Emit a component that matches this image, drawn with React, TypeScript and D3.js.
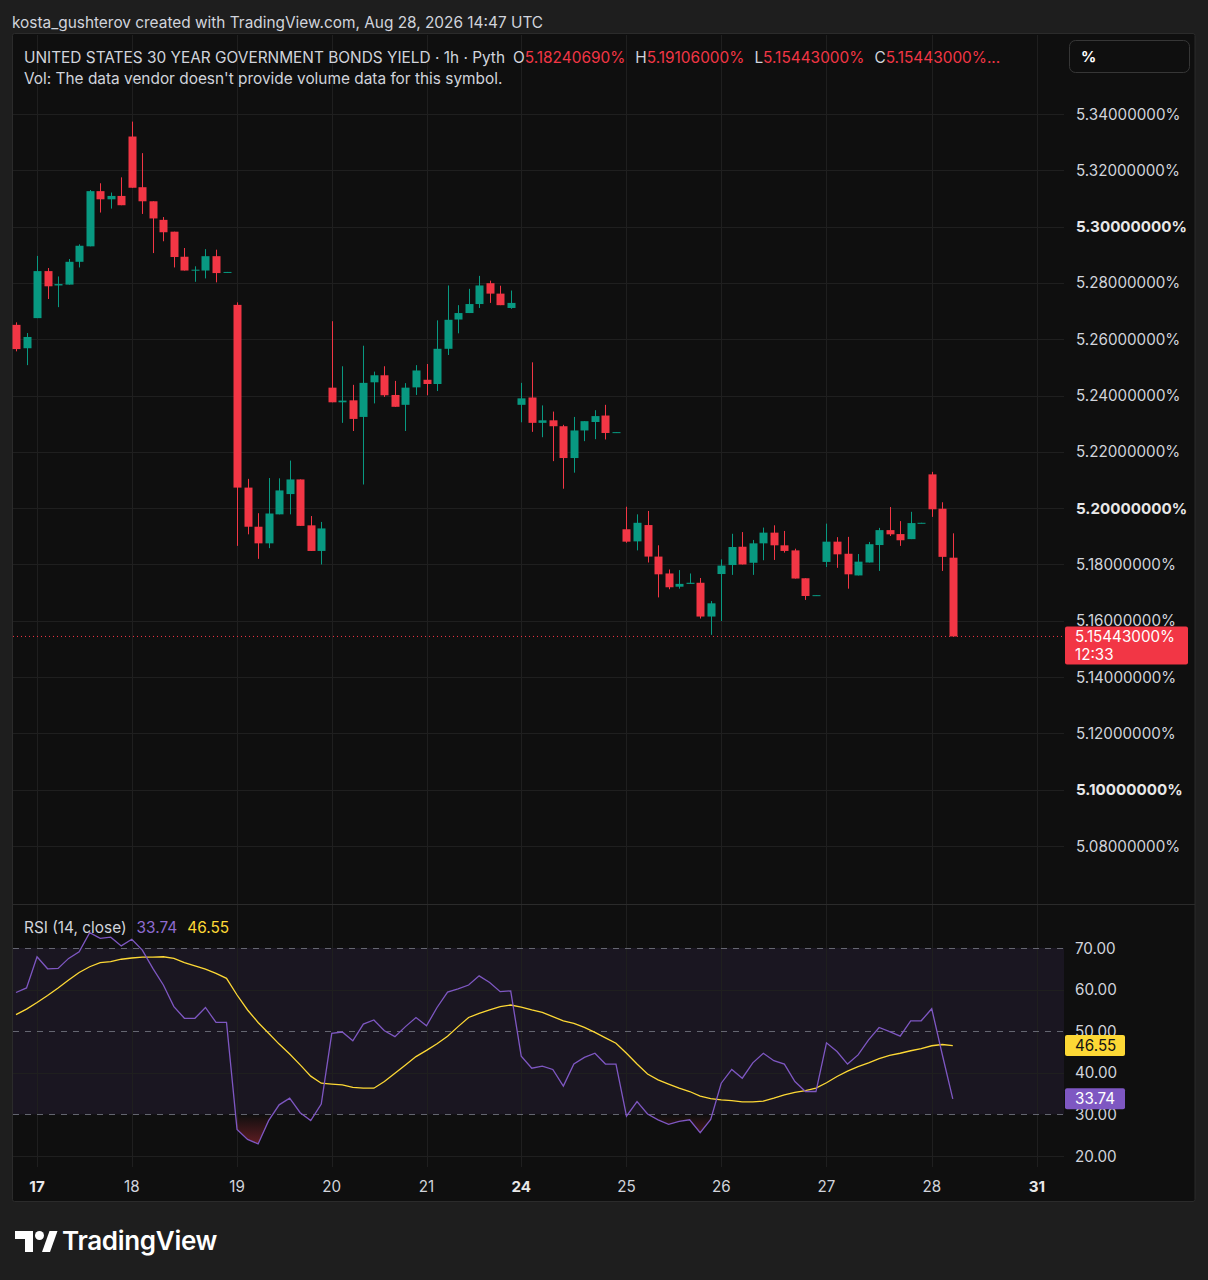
import React, { useEffect } from 'react';
import * as d3 from 'd3';

// hourly candles, index 0..89
const opens = [
  5.2651, 5.2568, 5.2675, 5.2842, 5.2791, 5.2794, 5.2875, 5.2930, 5.3126, 5.3097,
  5.3109, 5.3320, 5.3140, 5.3090, 5.3024, 5.2982, 5.2893, 5.2844, 5.2844, 5.2895,
  5.2837, 5.2722, 5.2073, 5.1934, 5.1875, 5.1978, 5.2050, 5.2102, 5.1939, 5.1848,
  5.2428, 5.2376, 5.2383, 5.2324, 5.2447, 5.2472, 5.2402, 5.2367, 5.2429, 5.2456,
  5.2441, 5.2566, 5.2670, 5.2693, 5.2725, 5.2799, 5.2762, 5.2711, 5.2367, 5.2393,
  5.2303, 5.2312, 5.2291, 5.2178, 5.2276, 5.2306, 5.2329, 5.2268, 5.1925, 5.1882,
  5.1940, 5.1828, 5.1768, 5.1721, 5.1731, 5.1735, 5.1615, 5.1766, 5.1798, 5.1863,
  5.1806, 5.1875, 5.1913, 5.1868, 5.1850, 5.1751, 5.1689, 5.1809, 5.1881, 5.1838,
  5.1761, 5.1807, 5.1869, 5.1922, 5.1908, 5.1890, 5.1946, 5.2120, 5.1998, 5.1824069,
];
const highs = [
  5.2660, 5.2622, 5.2896, 5.2853, 5.2823, 5.2885, 5.2937, 5.3130, 5.3154, 5.3121,
  5.3175, 5.3373, 5.3261, 5.3090, 5.3034, 5.2982, 5.2924, 5.2859, 5.2920, 5.2918,
  5.2839, 5.2731, 5.2104, 5.1982, 5.2107, 5.2106, 5.2169, 5.2102, 5.1972, 5.1951,
  5.2664, 5.2504, 5.2438, 5.2577, 5.2485, 5.2504, 5.2452, 5.2444, 5.2508, 5.2512,
  5.2667, 5.2791, 5.2721, 5.2779, 5.2825, 5.2808, 5.2790, 5.2773, 5.2445, 5.2518,
  5.2365, 5.2343, 5.2296, 5.2324, 5.2309, 5.2348, 5.2367, 5.2270, 5.2005, 5.1978,
  5.1990, 5.1868, 5.1782, 5.1780, 5.1768, 5.1752, 5.1670, 5.1818, 5.1909, 5.1915,
  5.1887, 5.1931, 5.1939, 5.1919, 5.1856, 5.1751, 5.1691, 5.1945, 5.1897, 5.1898,
  5.1837, 5.1880, 5.1930, 5.2004, 5.1954, 5.1987, 5.1948, 5.2129, 5.2021, 5.19106,
];
const lows = [
  5.2557, 5.2508, 5.2675, 5.2743, 5.2714, 5.2794, 5.2855, 5.2930, 5.3050, 5.3064,
  5.3076, 5.3138, 5.3045, 5.2906, 5.2948, 5.2855, 5.2844, 5.2804, 5.2816, 5.2802,
  5.2837, 5.1866, 5.1907, 5.1820, 5.1858, 5.1978, 5.1978, 5.1937, 5.1848, 5.1800,
  5.2376, 5.2303, 5.2274, 5.2084, 5.2372, 5.2395, 5.2360, 5.2274, 5.2402, 5.2401,
  5.2416, 5.2544, 5.2621, 5.2693, 5.2711, 5.2729, 5.2721, 5.2708, 5.2305, 5.2271,
  5.2252, 5.2167, 5.2069, 5.2126, 5.2238, 5.2245, 5.2244, 5.2268, 5.1877, 5.1850,
  5.1807, 5.1683, 5.1712, 5.1714, 5.1731, 5.1608, 5.1550, 5.1599, 5.1763, 5.1800,
  5.1763, 5.1815, 5.1816, 5.1842, 5.1750, 5.1674, 5.1689, 5.1791, 5.1788, 5.1714,
  5.1761, 5.1807, 5.1777, 5.1901, 5.1866, 5.1890, 5.1946, 5.1969, 5.1777, 5.15443,
];
const closes = [
  5.2565, 5.2608, 5.2842, 5.2788, 5.2796, 5.2875, 5.2932, 5.3126, 5.3097, 5.3109,
  5.3076, 5.3138, 5.3090, 5.3029, 5.2980, 5.2892, 5.2844, 5.2847, 5.2895, 5.2835,
  5.2839, 5.2073, 5.1934, 5.1875, 5.1981, 5.2063, 5.2102, 5.1937, 5.1848, 5.1928,
  5.2376, 5.2382, 5.2317, 5.2445, 5.2472, 5.2401, 5.2360, 5.2428, 5.2489, 5.2441,
  5.2566, 5.2669, 5.2693, 5.2725, 5.2791, 5.2762, 5.2721, 5.2729, 5.2390, 5.2303,
  5.2312, 5.2291, 5.2178, 5.2276, 5.2309, 5.2327, 5.2267, 5.2270, 5.1881, 5.1948,
  5.1828, 5.1765, 5.1719, 5.1731, 5.1735, 5.1615, 5.1662, 5.1796, 5.1862, 5.1800,
  5.1875, 5.1913, 5.1868, 5.1848, 5.1750, 5.1688, 5.1691, 5.1881, 5.1836, 5.1765,
  5.1810, 5.1872, 5.1922, 5.1907, 5.1886, 5.1947, 5.1948, 5.1996, 5.1827, 5.15443,
];

const rsiValues = [
  59.3, 60.4, 67.9, 65.0, 65.1, 67.5, 69.1, 73.7, 72.3, 72.6,
  70.5, 72.1, 69.5, 65.1, 61.1, 55.9, 53.1, 53.1, 55.7, 52.1,
  52.1, 26.4, 24.0, 22.9, 28.5, 32.3, 33.9, 30.4, 28.5, 32.5,
  49.5, 49.8, 47.7, 51.7, 52.7, 50.1, 48.7, 51.1, 53.3, 51.3,
  55.7, 59.4, 60.2, 61.1, 63.3, 61.7, 59.5, 59.7, 44.0, 41.1,
  41.6, 40.8, 36.8, 42.1, 43.7, 44.7, 42.1, 42.1, 29.6, 33.1,
  30.1, 28.7, 27.6, 28.3, 28.7, 25.6, 28.8, 37.5, 40.8, 38.7,
  42.4, 44.7, 42.9, 42.1, 37.9, 35.5, 35.5, 47.2, 45.1, 42.1,
  44.3, 47.9, 50.9, 49.9, 48.8, 52.5, 52.5, 55.4, 44.4, 33.74,
];
const rsiMaValues = [
  54.0, 55.3, 56.9, 58.6, 60.4, 62.3, 64.1, 65.5, 66.5, 66.7,
  67.3, 67.6, 67.8, 67.8, 67.9, 67.5, 66.5, 65.7, 64.9, 63.9,
  62.7, 58.7, 55.1, 52.1, 49.5, 46.9, 44.5, 41.9, 39.2, 37.5,
  37.3, 37.1, 36.5, 36.3, 36.3, 37.9, 39.9, 41.9, 43.9, 45.4,
  47.0, 48.8, 51.1, 53.3, 54.3, 55.1, 55.9, 56.3, 55.8, 55.1,
  54.5, 53.5, 52.5, 51.9, 50.9, 49.7, 48.4, 47.1, 44.7, 42.1,
  39.7, 38.3, 37.3, 36.3, 35.5, 34.4, 33.8, 33.5, 33.3, 33.0,
  33.0, 33.2, 33.9, 34.7, 35.3, 35.7, 36.3, 37.6, 39.1, 40.4,
  41.5, 42.4, 43.4, 44.2, 44.7, 45.3, 45.8, 46.5, 46.8, 46.55,
];

const dayLabels = ['17', '18', '19', '20', '21', '24', '25', '26', '27', '28', '31'];
const dayIndex = [2, 11, 21, 30, 39, 48, 58, 67, 77, 87, 97];
const weekStarts = ['17', '24', '31'];
const priceTicks = [5.34, 5.32, 5.30, 5.28, 5.26, 5.24, 5.22, 5.20, 5.18, 5.16, 5.14, 5.12, 5.10, 5.08];
const boldPrices = [5.30, 5.20, 5.10];
const rsiTicks = [70, 60, 50, 40, 30, 20];
const rsiDashed = [70, 50, 30];
const headerPrices = [
  { k: 'O', v: '5.18240690%' },
  { k: 'H', v: '5.19106000%' },
  { k: 'L', v: '5.15443000%' },
  { k: 'C', v: '5.15443000%...' },
];

const UP = '#089981';
const DOWN = '#f23645';
const TXT = '#d1d4dc';
const GRID = '#1f1f1f';
const FONT = 'Inter, "Noto Sans", sans-serif';
const FS = 15.4;

const plotLeft = 13;
const plotRight = 1064;
const frameRight = 1195;
const mainTop = 35;
const sepY = 904;
const paneBottom = 1167;

const x = d3.scaleLinear().domain([0, 97]).range([16, 1037]);
const y = d3.scaleLinear().domain([5.08, 5.34]).range([846, 114]);
const yR = d3.scaleLinear().domain([20, 70]).range([1156, 948]);

const App: React.FC = () => {
  useEffect(() => {
    document.body.style.margin = '0';
    document.body.style.background = '#1e1e1e';
  }, []);

  const px = (v: number) => Math.round(v) + 0.5;
  const idx = d3.range(closes.length);

  const rsiLine = d3.line<number>().x((i) => x(i)).y((i) => yR(rsiValues[i]));
  const maLine = d3.line<number>().x((i) => x(i)).y((i) => yR(rsiMaValues[i]));
  const lowArea = d3.area<number>().x((i) => x(i)).y0(yR(30)).y1((i) => yR(rsiValues[i]));

  const last = closes[closes.length - 1];
  const lastY = y(last);

  return (
    <svg width={1208} height={1280} style={{ display: 'block', fontFamily: FONT }}>
      <defs>
        <clipPath id="below30">
          <rect x={plotLeft} y={yR(30)} width={plotRight - plotLeft} height={paneBottom - yR(30)} />
        </clipPath>
        <linearGradient id="redGrad" gradientUnits="userSpaceOnUse" x1="0" y1={yR(30)} x2="0" y2={yR(22)}>
          <stop offset="0%" stopColor={DOWN} stopOpacity={0} />
          <stop offset="100%" stopColor={DOWN} stopOpacity={0.4} />
        </linearGradient>
      </defs>

      <rect x={0} y={0} width={1208} height={1280} fill="#1e1e1e" />
      <text x={12} y={28} fill={TXT} fontSize={FS}>
        kosta_gushterov created with TradingView.com, Aug 28, 2026 14:47 UTC
      </text>

      {/* chart frame */}
      <rect x={12.5} y={33.5} width={frameRight - 12.5} height={1168} fill="#0f0f0f" stroke="#2b2b2b" rx={2} />

      {/* grid */}
      {priceTicks.map((t) => (
        <line key={'pg' + t} x1={plotLeft} x2={plotRight} y1={px(y(t))} y2={px(y(t))} stroke={GRID} />
      ))}
      <rect x={plotLeft} y={yR(70)} width={plotRight - plotLeft} height={yR(30) - yR(70)} fill="#7e57c2" fillOpacity={0.1} />
      {rsiTicks.filter((t) => !rsiDashed.includes(t)).map((t) => (
        <line key={'rg' + t} x1={plotLeft} x2={plotRight} y1={px(yR(t))} y2={px(yR(t))} stroke={GRID} />
      ))}
      {dayIndex.map((d) => (
        <line key={'vg' + d} x1={px(x(d))} x2={px(x(d))} y1={mainTop} y2={paneBottom} stroke={GRID} />
      ))}
      <line x1={plotLeft} x2={frameRight} y1={sepY + 0.5} y2={sepY + 0.5} stroke="#2b2b2b" />

      {/* candles */}
      {idx.map((i) => {
        const o = opens[i];
        const c = closes[i];
        const col = c >= o ? UP : DOWN;
        const top = y(Math.max(o, c));
        const h = Math.max(1, y(Math.min(o, c)) - top);
        return (
          <g key={'c' + i}>
            <line x1={px(x(i))} x2={px(x(i))} y1={y(highs[i])} y2={y(lows[i])} stroke={col} />
            <rect x={Math.round(x(i)) - 3.5} y={top} width={8} height={h} fill={col} />
          </g>
        );
      })}

      {/* last price line */}
      <line x1={plotLeft} x2={plotRight} y1={lastY} y2={lastY} stroke={DOWN} strokeDasharray="1,3" />

      {/* price axis */}
      {priceTicks.map((t) => {
        const b = boldPrices.some((p) => Math.abs(p - t) < 1e-9);
        return (
          <text key={'pt' + t} x={1076} y={y(t) + 5.5} fill={b ? '#e8e8e8' : TXT} fontSize={15.2} fontWeight={b ? 700 : 400}>
            {t.toFixed(8) + '%'}
          </text>
        );
      })}
      <rect x={1065} y={lastY - 10} width={123} height={38} rx={2} fill={DOWN} />
      <text x={1075} y={lastY + 6} fill="#ffffff" fontSize={15.2}>{last.toFixed(8) + '%'}</text>
      <text x={1075} y={lastY + 24} fill="#ffffff" fontSize={15.2}>12:33</text>

      <rect x={1069.5} y={40.5} width={120} height={32} rx={6} fill="none" stroke="#363636" />
      <text x={1081} y={62} fill="#ffffff" fontSize={15} fontWeight={700}>%</text>

      {/* legend */}
      <text x={24} y={63} fill={TXT} fontSize={FS}>
        <tspan>UNITED STATES 30 YEAR GOVERNMENT BONDS YIELD · 1h · Pyth</tspan>
        {headerPrices.map((p, k) => (
          <React.Fragment key={p.k}>
            <tspan dx={k === 0 ? 8 : 10} fill={TXT}>{p.k}</tspan>
            <tspan fill={DOWN}>{p.v}</tspan>
          </React.Fragment>
        ))}
      </text>
      <text x={24} y={84} fill={TXT} fontSize={FS}>
        Vol: The data vendor doesn't provide volume data for this symbol.
      </text>

      {/* RSI pane */}
      {rsiDashed.map((t) => (
        <line key={'rd' + t} x1={plotLeft} x2={plotRight} y1={px(yR(t))} y2={px(yR(t))} stroke="#787b86" strokeOpacity={0.8} strokeDasharray="6,6" />
      ))}
      <path d={lowArea(idx) || ''} fill="url(#redGrad)" clipPath="url(#below30)" />
      <path d={maLine(idx) || ''} fill="none" stroke="#fdd835" strokeWidth={1.3} />
      <path d={rsiLine(idx) || ''} fill="none" stroke="#7e57c2" strokeWidth={1.3} />

      <text x={24} y={933} fontSize={FS}>
        <tspan fill={TXT}>RSI (14, close)</tspan>
        <tspan dx={10} fill="#8d6bd0">{rsiValues[rsiValues.length - 1].toFixed(2)}</tspan>
        <tspan dx={10} fill="#fdd835">{rsiMaValues[rsiMaValues.length - 1].toFixed(2)}</tspan>
      </text>

      {rsiTicks.map((t) => (
        <text key={'rt' + t} x={1075} y={yR(t) + 5.5} fill={TXT} fontSize={15.2}>{t.toFixed(2)}</text>
      ))}
      <rect x={1065} y={yR(46.55) - 10.5} width={60} height={21} rx={2} fill="#fdd835" />
      <text x={1075} y={yR(46.55) + 5.5} fill="#131313" fontSize={15.2}>{rsiMaValues[rsiMaValues.length - 1].toFixed(2)}</text>
      <rect x={1065} y={yR(33.74) - 10.5} width={60} height={21} rx={2} fill="#7e57c2" />
      <text x={1075} y={yR(33.74) + 5.5} fill="#ffffff" fontSize={15.2}>{rsiValues[rsiValues.length - 1].toFixed(2)}</text>

      {/* time axis */}
      {dayLabels.map((d, k) => (
        <text key={'d' + d} x={x(dayIndex[k])} y={1192} textAnchor="middle" fill={weekStarts.includes(d) ? '#e8e8e8' : TXT} fontSize={15.2} fontWeight={weekStarts.includes(d) ? 700 : 400}>
          {d}
        </text>
      ))}

      {/* logo */}
      <g fill="#ffffff">
        <path d="M15,1231 H33 V1252 H25 V1239 H15 Z" />
        <circle cx={39.5} cy={1235.5} r={4.5} />
        <path d="M42,1252 L49.5,1231 H57.5 L50,1252 Z" />
        <text x={62} y={1250} fontSize={26} fontWeight={600} letterSpacing={-0.3}>TradingView</text>
      </g>
    </svg>
  );
};

export default App;
